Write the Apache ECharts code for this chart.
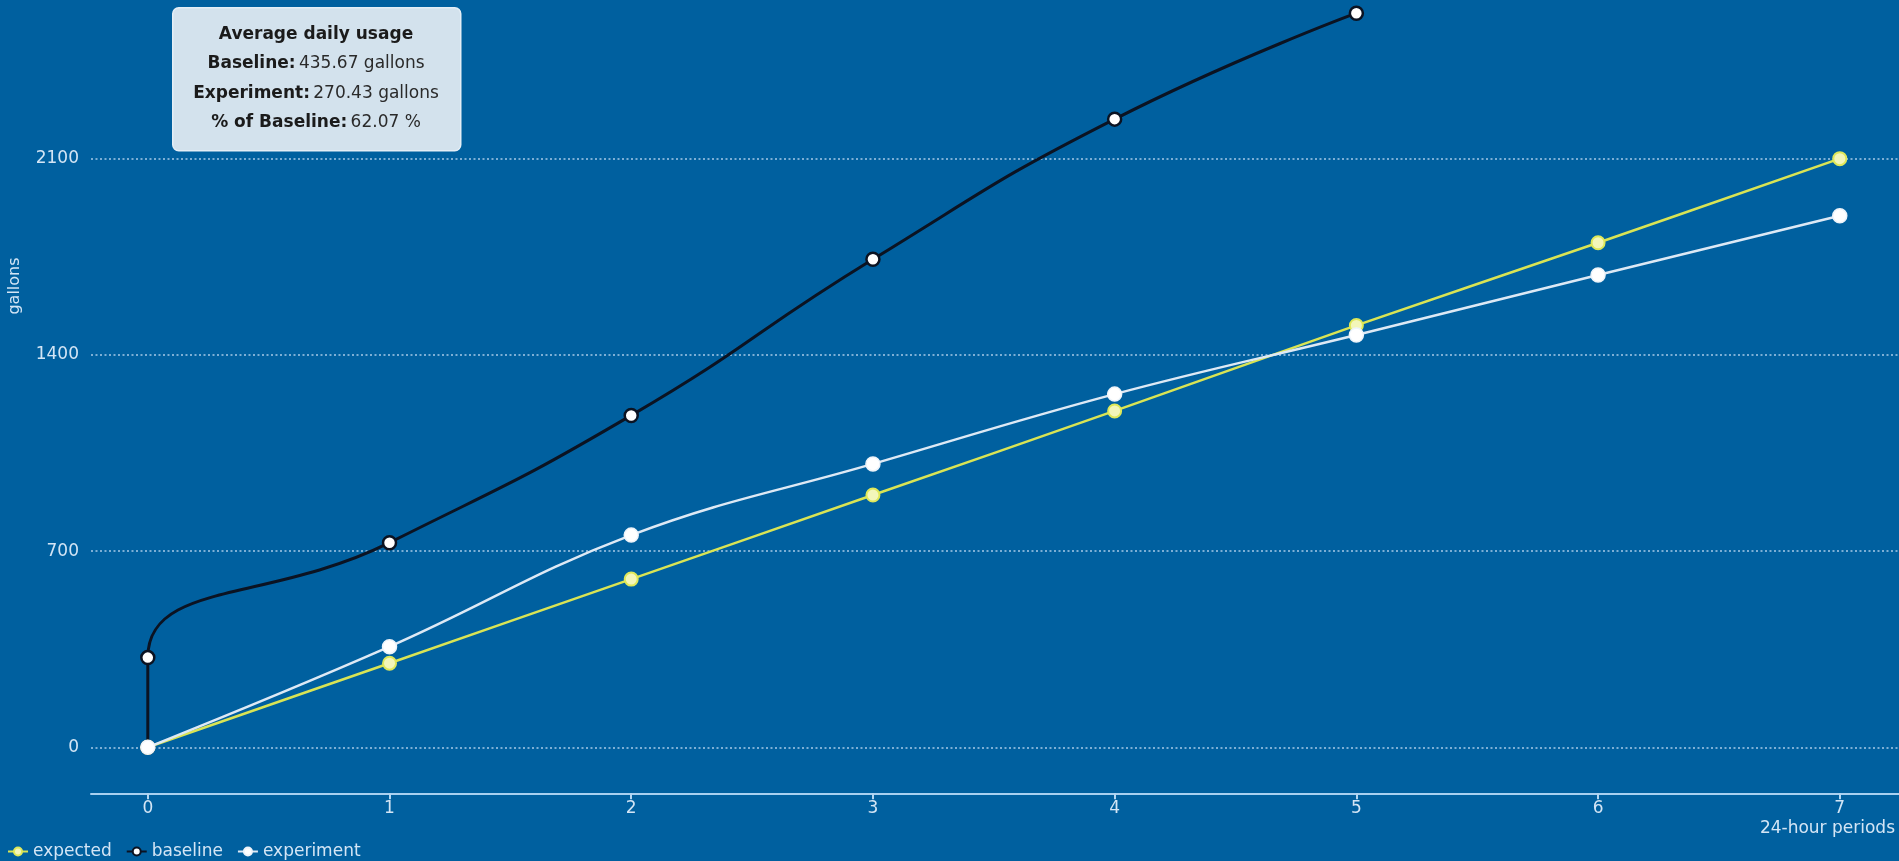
<!DOCTYPE html>
<html>
<head>
<meta charset="utf-8">
<title>Average daily usage</title>
<script src="https://cdn.jsdelivr.net/npm/echarts@6/dist/echarts.min.js"></script>
<style>
  html, body { margin: 0; padding: 0; background: #00609f; }
  #chart { width: 1899px; height: 861px; }
</style>
</head>
<body>
<div id="chart"></div>
<script>
// 24-hour periods on x, cumulative gallons on y
const periods = [0, 1, 2, 3, 4, 5, 6, 7];
const expected = [0, 300, 600, 900, 1200, 1505, 1800, 2100];
const experiment = [0, 359, 757, 1011, 1260, 1471, 1685, 1896];
// baseline starts with a jump at period 0
const baselineX = [0, 0, 1, 2, 3, 4, 5];
const baselineY = [0, 320, 730, 1184, 1741, 2241, 2619];

const infoTitle = 'Average daily usage';
const infoRows = [
  ['Baseline:', '435.67 gallons'],
  ['Experiment:', '270.43 gallons'],
  ['% of Baseline:', '62.07 %']
];

const font = 'DejaVu Sans';
const labelColor = '#d3e5f5';

const chart = echarts.init(document.getElementById('chart'));

const pairs = (xs, ys) => xs.map((x, i) => [x, ys[i]]);

const infoGraphic = [
  {
    type: 'rect',
    left: 172, top: 7,
    shape: { width: 288, height: 143, r: 6 },
    style: { fill: '#d3e2ed', stroke: '#e4eef6', lineWidth: 1.5 },
    z: 100
  },
  {
    type: 'text', x: 316, y: 35, z: 101,
    style: {
      text: infoTitle, align: 'center', verticalAlign: 'middle',
      font: 'bold 17px "' + font + '"', fill: '#1b1b1b'
    }
  }
];
infoRows.forEach((row, i) => {
  infoGraphic.push({
    type: 'text', x: 316, y: 64 + i * 29.5, z: 101,
    style: {
      text: '{b|' + row[0] + '} {n|' + row[1] + '}',
      align: 'center', verticalAlign: 'middle',
      fill: '#1b1b1b',
      rich: {
        b: { fontFamily: font, fontSize: 17, fontWeight: 'bold', fill: '#1b1b1b' },
        n: { fontFamily: font, fontSize: 17, fill: '#2a2a2a' }
      }
    }
  });
});

const option = {
  backgroundColor: '#00609f',
  animation: false,
  textStyle: { fontFamily: font },
  grid: { left: 91, right: 0, top: 0, bottom: 113.7, outerBoundsMode: 'none', containLabel: false },
  legend: {
    left: 2, top: 838,
    itemWidth: 20, itemHeight: 10, itemGap: 14,
    textStyle: { color: labelColor, fontSize: 17, fontFamily: font },
    data: ['expected', 'baseline', 'experiment']
  },
  xAxis: {
    type: 'value',
    min: -0.235, max: 7.245,
    offset: 46,
    name: '24-hour periods',
    nameLocation: 'end',
    nameGap: -4,
    nameTextStyle: {
      color: labelColor, fontSize: 17, align: 'right', verticalAlign: 'top',
      padding: [27, 0, 0, 0]
    },
    axisLine: { show: true, onZero: false, lineStyle: { color: '#a8d0f0', width: 2 } },
    axisTick: { show: true, length: 6, lineStyle: { color: '#b4d6f2', width: 2 }, customValues: periods },
    axisLabel: { color: labelColor, fontSize: 17, margin: 7, customValues: periods },
    splitLine: { show: false }
  },
  yAxis: {
    type: 'value',
    min: 0, max: 2666, interval: 700,
    axisLine: { show: false },
    axisTick: { show: false },
    axisLabel: {
      color: labelColor, fontSize: 17, margin: 12, showMaxLabel: false,
      formatter: v => String(v)
    },
    splitLine: {
      showMaxLine: false,
      lineStyle: { color: '#a6c9e8', width: 1.5, type: [2, 2.5] }
    }
  },
  graphic: [
    {
      type: 'text', x: 15, y: 286, rotation: Math.PI / 2,
      style: {
        text: 'gallons', align: 'center', verticalAlign: 'middle',
        font: '16px "' + font + '"', fill: labelColor
      }
    }
  ].concat(infoGraphic),
  series: [
    {
      name: 'expected', type: 'line',
      data: pairs(periods, expected),
      smooth: 0.4,
      color: '#d9e454',
      lineStyle: { color: '#d9e454', width: 2.5 },
      symbol: 'circle', symbolSize: 13,
      itemStyle: { color: '#f3f6b9', borderColor: '#dfe85a', borderWidth: 2 },
      z: 3
    },
    {
      name: 'baseline', type: 'line',
      data: pairs(baselineX, baselineY),
      smooth: 0.5,
      color: '#0b1322',
      lineStyle: { color: '#0b1322', width: 3 },
      symbol: 'circle', symbolSize: 13,
      itemStyle: { color: '#ffffff', borderColor: '#0b1322', borderWidth: 2.5 },
      z: 2
    },
    {
      name: 'experiment', type: 'line',
      data: pairs(periods, experiment),
      smooth: 0.4,
      color: '#dde9f5',
      lineStyle: { color: '#dde9f5', width: 2.5 },
      symbol: 'circle', symbolSize: 14,
      itemStyle: { color: '#ffffff', borderColor: '#eef4fa', borderWidth: 1.5 },
      z: 4
    }
  ]
};

chart.setOption(option);
</script>
</body>
</html>
